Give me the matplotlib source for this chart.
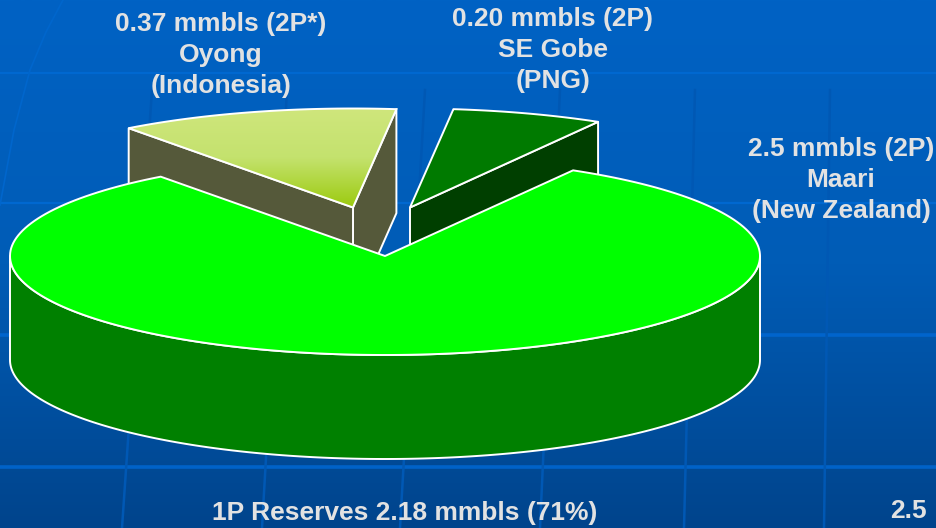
import numpy as np
import matplotlib
matplotlib.use('Agg')
import matplotlib.pyplot as plt
from matplotlib.colors import LinearSegmentedColormap
from matplotlib.patches import Polygon

plt.rcParams['font.family'] = ['Liberation Sans', 'DejaVu Sans']

## Chart data
fields = ['Maari', 'Oyong', 'SE Gobe']
reserves = [2.5, 0.37, 0.20]
labels = ['2.5 mmbls (2P)\nMaari\n(New Zealand)',
          '0.37 mmbls (2P*)\nOyong\n(Indonesia)',
          '0.20 mmbls (2P)\nSE Gobe\n(PNG)']
footer_left = '1P Reserves 2.18 mmbls (71%)'
footer_right = '2.5'

## Pie geometry and styles, in pixels
RX, RY, DEPTH = 375, 99, 104
START = 59.9
apex = {'Maari': (385, 256), 'Oyong': (353, 207.5), 'SE Gobe': (410, 207.5)}
top_col = {'Maari': '#00ff00', 'SE Gobe': '#007a00'}
side_col = {'Maari': '#008000', 'Oyong': '#55593a', 'SE Gobe': '#003f00'}
label_pos = {'Maari': (841, 180), 'Oyong': (221, 55), 'SE Gobe': (553, 50)}

fig = plt.figure(figsize=(9.36, 5.28), dpi=100)
ax = fig.add_axes([0, 0, 1, 1])
ax.set_xlim(0, 936)
ax.set_ylim(528, 0)
ax.axis('off')

## Background gradient and grid
bg = LinearSegmentedColormap.from_list('bg', ['#0062c4', '#005cb6', '#00448c'])
ax.imshow(np.linspace(0, 1, 256)[:, None], cmap=bg, extent=[0, 936, 528, 0],
          aspect='auto', zorder=0)
for y, c, w in [(73, '#0068d0', 1.6), (203, '#0068d0', 1.6),
                (335, '#0064cc', 2.6), (467, '#0062c8', 2.6)]:
    ax.plot([0, 936], [y, y], color=c, lw=w, zorder=1)
for x0, x1 in [(152, 122), (287, 262), (425, 400), (560, 540), (695, 684), (830, 824)]:
    ax.plot([x0, x1], [90, 528], color='#0058b4', lw=1.8, zorder=1)
ax.plot([63, 46, 30, 14, 0], [0, 32, 70, 130, 205], color='#0066cc', lw=1.2, zorder=1)


def arc(name, a0, a1):
    t = np.radians(np.linspace(a0, a1, 200))
    cx, cy = apex[name]
    return np.column_stack([cx + RX * np.cos(t), cy - RY * np.sin(t)])


def draw_slice(name, a0, a1, z):
    """ One extruded pie slice, back faces left out. """
    cx, cy = apex[name]
    edge = arc(name, a0, a1)
    style = dict(ec='white', lw=1.4, joinstyle='round', zorder=z)
    # radial faces, only those turned to the viewer
    for ang, pt, turn in [(a0, edge[0], -90), (a1, edge[-1], 90)]:
        if np.sin(np.radians(ang + turn)) < 0:
            ax.add_patch(Polygon([(cx, cy), pt, pt + (0, DEPTH), (cx, cy + DEPTH)],
                                 fc=side_col[name], **style))
    # front of the rim
    lo, hi = max(a0, 180), min(a1, 360)
    if lo < hi:
        rim = arc(name, lo, hi)
        ax.add_patch(Polygon(np.vstack([rim, (rim + (0, DEPTH))[::-1]]),
                             fc=side_col[name], **style))
    pts = np.vstack([[(cx, cy)], edge])
    if name == 'Oyong':
        # gradient top
        cm = LinearSegmentedColormap.from_list('oy', ['#cfe67c', '#c4e26e', '#9ccb10'])
        im = ax.imshow(np.linspace(0, 1, 128)[:, None], cmap=cm, aspect='auto',
                       extent=[pts[:, 0].min(), pts[:, 0].max(), cy, pts[:, 1].min()],
                       origin='upper', zorder=z)
        clip = Polygon(pts, fc='none', ec='white', lw=1.4, zorder=z + 0.1)
        ax.add_patch(clip)
        im.set_clip_path(clip)
    else:
        ax.add_patch(Polygon(pts, fc=top_col[name], **style))


## Slice angles come from the reserves, running anticlockwise from START
sweep = 360 * np.array(reserves) / sum(reserves)
a = START
angles = {}
for name, s in zip(['SE Gobe', 'Oyong', 'Maari'], sweep[::-1]):
    angles[name] = (a, a + s)
    a += s

draw_slice('Oyong', *angles['Oyong'], 3)
draw_slice('SE Gobe', *angles['SE Gobe'], 3)
draw_slice('Maari', *angles['Maari'], 5)

## Text
txt = dict(color='#e2e2e2', fontweight='bold', fontsize=19, ha='center',
           va='center', linespacing=1.36, zorder=8)
for name, lab in zip(fields, labels):
    ax.text(*label_pos[name], lab, **txt)
ax.text(405, 513, footer_left, **txt)
ax.text(890, 511, footer_right, **{**txt, 'ha': 'left'})

ax.set_xlim(0, 936)
ax.set_ylim(528, 0)
fig.savefig('out.png', dpi=100)
